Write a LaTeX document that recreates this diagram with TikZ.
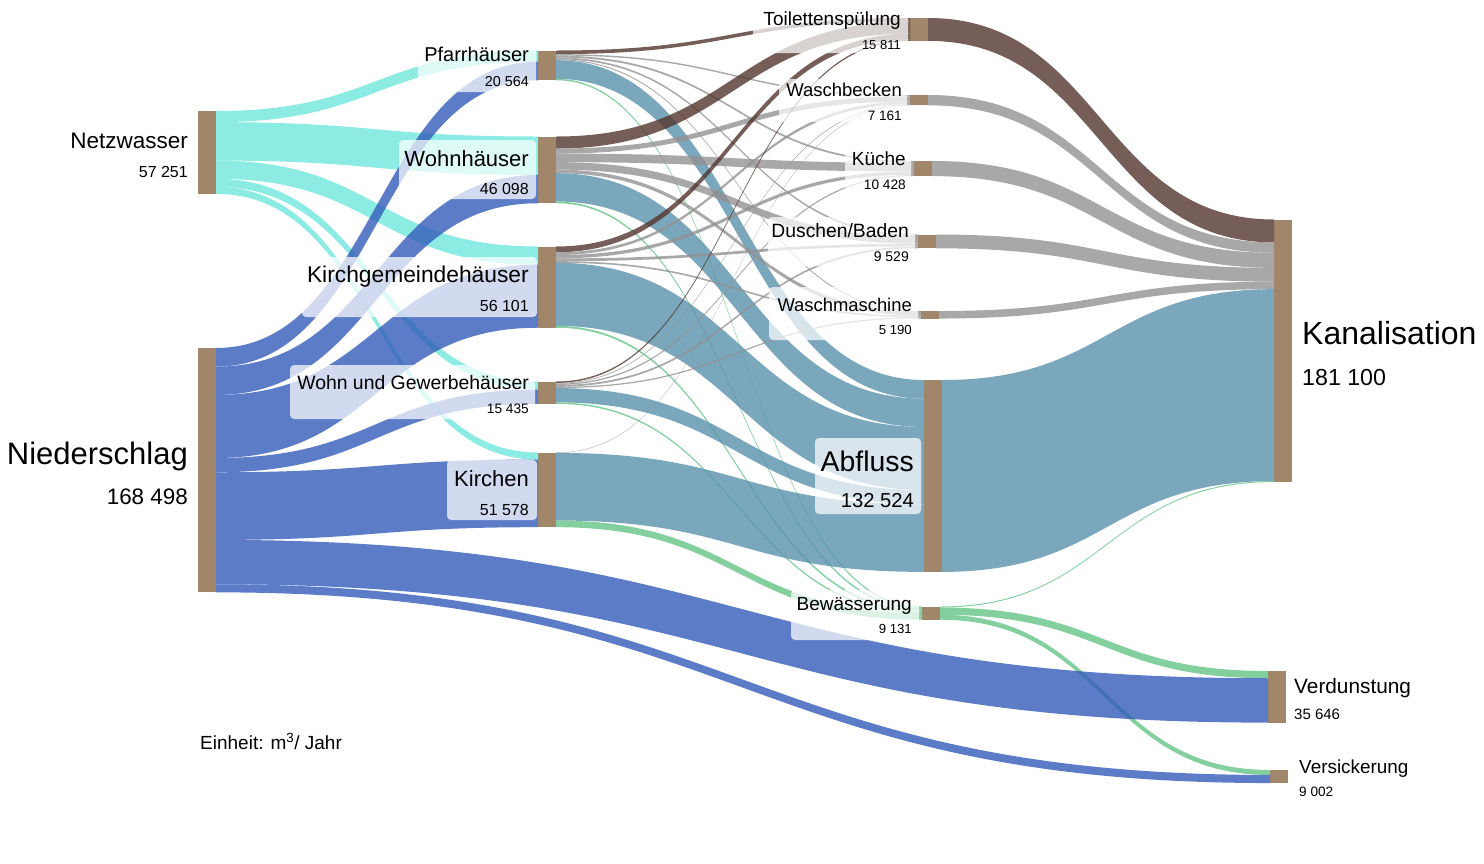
\documentclass[tikz,border=0pt]{standalone}
\usepackage{fontspec}
\setmainfont{Liberation Sans}
\usetikzlibrary{calc}
\definecolor{barc}{RGB}{161,134,106}
\definecolor{cyanc}{RGB}{64,224,208}
\definecolor{bluec}{RGB}{51,91,186}
\definecolor{tealc}{RGB}{89,145,171}
\definecolor{brownc}{RGB}{84,54,46}
\definecolor{grayc}{RGB}{146,146,146}
\definecolor{greenc}{RGB}{100,196,134}
\newcommand\kk{1.448}
\newcommand\sknode[4]{%
  \node[barnode, minimum height={#4*\kk pt}, anchor=north west] (#1) at (#2,#3) {};
  \expandafter\gdef\csname skoo#1\endcsname{0}%
  \expandafter\gdef\csname skio#1\endcsname{0}%
}
\newcommand\flow[4]{%
  \pgfmathsetmacro\fh{#4*\kk}%
  \edef\fso{\csname skoo#2\endcsname}%
  \edef\fto{\csname skio#3\endcsname}%
  \path[#1] let \p1=([yshift=-\fso pt]#2.north east), \p2=([yshift=-\fto pt]#3.north west) in
    (\p1) .. controls ({(\x1+\x2)/2},\y1) and ({(\x1+\x2)/2},\y2) .. (\p2)
    -- (\x2,{\y2-\fh pt}) .. controls ({(\x1+\x2)/2},{\y2-\fh pt}) and ({(\x1+\x2)/2},{\y1-\fh pt}) .. (\x1,{\y1-\fh pt}) -- cycle;
  \pgfmathsetmacro\ftmp{\fso+\fh}\expandafter\xdef\csname skoo#2\endcsname{\ftmp}%
  \pgfmathsetmacro\ftmp{\fto+\fh}\expandafter\xdef\csname skio#3\endcsname{\ftmp}%
}
\newcommand\fs[1]{\fontsize{#1}{#1}\selectfont}
\begin{document}
\begin{tikzpicture}[x=1pt,y=-1pt,
  barnode/.style={rectangle, fill=barc, draw=none, minimum width=18pt, inner sep=0pt, outer sep=0pt},
  lcy/.style={fill=cyanc, fill opacity=0.6},
  lbl/.style={fill=bluec, fill opacity=0.8},
  lte/.style={fill=tealc, fill opacity=0.8},
  lbr/.style={fill=brownc, fill opacity=0.8},
  lgr/.style={fill=grayc, fill opacity=0.8},
  lgn/.style={fill=greenc, fill opacity=0.8},
  lbox/.style={fill=white, fill opacity=0.72, rounded corners=4pt, draw=none},
  labl/.style={inner sep=0pt, text=black, anchor=base east},
  labr/.style={inner sep=0pt, text=black, anchor=base west}]
\useasboundingbox (0,0) rectangle (1484,863);
% ---------- bars ----------
\sknode{netz}{198}{111}{57.251}
\sknode{nied}{198}{348}{168.498}
\sknode{pf}{538}{50.5}{20.564}
\sknode{wo}{538}{136.5}{46.098}
\sknode{kg}{538}{246.5}{56.101}
\sknode{wg}{538}{381.5}{15.435}
\sknode{ki}{538}{452.5}{51.578}
\sknode{to}{910}{18}{15.811}
\sknode{wb}{910}{95}{7.161}
\sknode{ku}{914}{161}{10.428}
\sknode{du}{918}{234.5}{9.529}
\sknode{wm}{921}{311}{5.190}
\sknode{ab}{924}{380}{132.524}
\sknode{be}{922}{606.5}{9.131}
\sknode{ka}{1274}{219.5}{181.343}
\sknode{ve}{1268}{671}{35.646}
\sknode{vs}{1270}{770}{9.002}
% ---------- links ----------
\flow{lcy}{netz}{pf}{7.700}
\flow{lcy}{netz}{wo}{26.550}
\flow{lcy}{netz}{kg}{12.560}
\flow{lcy}{netz}{wg}{5.570}
\flow{lcy}{netz}{ki}{4.871}
\flow{lbl}{nied}{pf}{12.864}
\flow{lbl}{nied}{wo}{19.548}
\flow{lbl}{nied}{kg}{43.541}
\flow{lbl}{nied}{wg}{9.865}
\flow{lbl}{nied}{ki}{46.707}
% Pfarrhaeuser
\flow{lbr}{pf}{to}{2.500}
\flow{lgr}{pf}{wb}{1.000}
\flow{lgr}{pf}{ku}{1.300}
\flow{lgr}{pf}{du}{1.200}
\flow{lgr}{pf}{wm}{0.700}
\flow{lte}{pf}{ab}{12.864}
\flow{lgn}{pf}{be}{1.000}
% Wohnhaeuser
\flow{lbr}{wo}{to}{8.300}
\flow{lgr}{wo}{wb}{3.500}
\flow{lgr}{wo}{ku}{5.900}
\flow{lgr}{wo}{du}{5.150}
\flow{lgr}{wo}{wm}{2.500}
\flow{lte}{wo}{ab}{19.548}
\flow{lgn}{wo}{be}{1.200}
% Kirchgemeindehaeuser
\flow{lbr}{kg}{to}{4.000}
\flow{lgr}{kg}{wb}{1.900}
\flow{lgr}{kg}{ku}{2.328}
\flow{lgr}{kg}{du}{1.900}
\flow{lgr}{kg}{wm}{1.132}
\flow{lte}{kg}{ab}{43.541}
\flow{lgn}{kg}{be}{1.300}
% Wohn und Gewerbehaeuser
\flow{lbr}{wg}{to}{1.011}
\flow{lgr}{wg}{wb}{0.490}
\flow{lgr}{wg}{ku}{0.900}
\flow{lgr}{wg}{du}{1.279}
\flow{lgr}{wg}{wm}{0.858}
\flow{lte}{wg}{ab}{9.865}
\flow{lgn}{wg}{be}{1.031}
% Kirchen
\flow{lgr}{ki}{wb}{0.271}
\flow{lte}{ki}{ab}{46.707}
\flow{lgn}{ki}{be}{4.600}
% to Kanalisation
\flow{lbr}{to}{ka}{15.811}
\flow{lgr}{wb}{ka}{7.161}
\flow{lgr}{ku}{ka}{10.428}
\flow{lgr}{du}{ka}{9.529}
\flow{lgr}{wm}{ka}{5.190}
\flow{lte}{ab}{ka}{132.524}
\flow{lgn}{be}{ka}{0.700}
\flow{lgn}{be}{ve}{5.000}
\flow{lgn}{be}{vs}{3.431}
\flow{lbl}{nied}{ve}{30.646}
\flow{lbl}{nied}{vs}{5.571}
% ---------- label boxes ----------
\path[lbox] (64,124) rectangle (196,186);
\path[lbox] (2,432) rectangle (196,515);
\path[lbox] (418,42) rectangle (536,92);
\path[lbox] (399,140) rectangle (536,199);
\path[lbox] (302,257) rectangle (537,317);
\path[lbox] (290,365) rectangle (535,419);
\path[lbox] (447,460) rectangle (537,520);
\path[lbox] (753,4) rectangle (908,53);
\path[lbox] (779,79) rectangle (907,122);
\path[lbox] (845,146) rectangle (911,192);
\path[lbox] (768,217) rectangle (915,266);
\path[lbox] (769,287) rectangle (918,340);
\path[lbox] (815,438) rectangle (921,514);
\path[lbox] (791,590) rectangle (919,640);
% ---------- labels ----------
\node[labl, font=\fs{22.5}] (tnetz) at (188,148) {Netzwasser};
\node[labl, font=\fs{16}] (vnetz) at (188,177) {57 251};
\node[labl, font=\fs{31}] (tnied) at (188,464) {Niederschlag};
\node[labl, font=\fs{22.4}] (vnied) at (188,504) {168 498};
\node[labl, font=\fs{20}] (tpf) at (529,61) {Pfarrhäuser};
\node[labl, font=\fs{14.4}] (vpf) at (529,86) {20 564};
\node[labl, font=\fs{22}] (two) at (529,166) {Wohnhäuser};
\node[labl, font=\fs{16}] (vwo) at (529,194) {46 098};
\node[labl, font=\fs{22.8}] (tkg) at (529,282) {Kirchgemeindehäuser};
\node[labl, font=\fs{16}] (vkg) at (529,311) {56 101};
\node[labl, font=\fs{19.4}] (twg) at (529,389) {Wohn und Gewerbehäuser};
\node[labl, font=\fs{13.7}] (vwg) at (529,413) {15 435};
\node[labl, font=\fs{22}] (tki) at (529,486) {Kirchen};
\node[labl, font=\fs{16}] (vki) at (529,515) {51 578};
\node[labl, font=\fs{19}] (tto) at (901,25) {Toilettenspülung};
\node[labl, font=\fs{13}] (vto) at (901,49) {15 811};
\node[labl, font=\fs{18.5}] (twb) at (902,96) {Waschbecken};
\node[labl, font=\fs{13.6}] (vwb) at (902,120) {7 161};
\node[labl, font=\fs{19}] (tku) at (906,165) {Küche};
\node[labl, font=\fs{13.7}] (vku) at (906,189) {10 428};
\node[labl, font=\fs{19.3}] (tdu) at (909,237) {Duschen/Baden};
\node[labl, font=\fs{14}] (vdu) at (909,261) {9 529};
\node[labl, font=\fs{18.4}] (twm) at (912,311) {Waschmaschine};
\node[labl, font=\fs{13.2}] (vwm) at (912,334) {5 190};
\node[labl, font=\fs{28.4}] (tab) at (914,471) {Abfluss};
\node[labl, font=\fs{20.2}] (vab) at (914,507) {132 524};
\node[labl, font=\fs{19}] (tbe) at (912,610) {Bewässerung};
\node[labl, font=\fs{13.2}] (vbe) at (912,633) {9 131};
\node[labr, font=\fs{32}] (tka) at (1302,344) {Kanalisation};
\node[labr, font=\fs{23.2}] (vka) at (1302,385) {181 100};
\node[labr, font=\fs{20.8}] (tve) at (1294,693) {Verdunstung};
\node[labr, font=\fs{15}] (vve) at (1294,719) {35 646};
\node[labr, font=\fs{18.9}] (tvs) at (1299,773) {Versickerung};
\node[labr, font=\fs{13.6}] (vvs) at (1299,796) {9 002};
\node[labr, font=\fs{19}] (unit) at (200,749) {Einheit: m\textsuperscript{3}/ Jahr};
\end{tikzpicture}
\end{document}
